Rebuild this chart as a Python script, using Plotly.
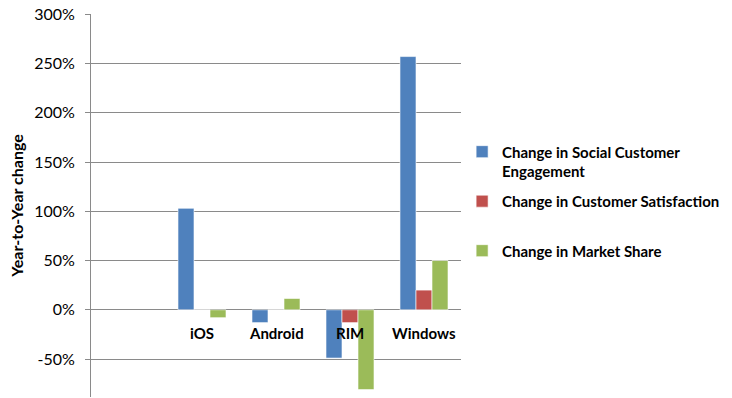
import plotly.graph_objects as go

categories = ["", "iOS", "Android", "RIM", "Windows"]
social_engagement = [None, 1.03, -0.13, -0.49, 2.57]
customer_satisfaction = [None, 0.0, 0.0, -0.13, 0.20]
market_share = [None, -0.08, 0.115, -0.81, 0.50]
series_names = ["Change in Social Customer<br>Engagement",
                "Change in Customer Satisfaction<br>&nbsp;",
                "Change in Market Share<br>&nbsp;"]
colors = ["#4F81BD", "#C0504D", "#9BBB59"]
tick_vals = [3.0, 2.5, 2.0, 1.5, 1.0, 0.5, 0.0, -0.5]
tick_text = ["300%", "250%", "200%", "150%", "100%", "50%", "0%", "-50%"]

FONT = "Lato, Carlito, Arial, sans-serif"
ymin, ymax = -0.885, 3.002

fig = go.Figure()
for i, (vals, name, col) in enumerate(zip([social_engagement, customer_satisfaction, market_share],
                                        series_names, colors)):
    fig.add_trace(go.Bar(x=categories, y=vals, name=name, marker_color=col,
                         marker_line=dict(color="white", width=0.6),
                         legendgroup=f"g{i}"))

# category labels near the zero line
for c in categories:
    if c:
        fig.add_annotation(x=c, y=0, xref="x", yref="y", text=f"<b>{c}</b>",
                           showarrow=False, yanchor="top", yshift=-12,
                           font=dict(family=FONT, size=15, color="#000000"))

fig.update_layout(
    width=732, height=398,
    margin=dict(l=91, r=271, t=14, b=1, autoexpand=False),
    paper_bgcolor="white", plot_bgcolor="white",
    barmode="group", bargap=0.351, bargroupgap=0,
    font=dict(family=FONT, size=14, color="#000000"),
    showlegend=True,
    legend=dict(x=1.003, y=0.683, xanchor="left", yanchor="top",
                font=dict(family=FONT, size=15, color="#000000", weight="bold"),
                traceorder="grouped", tracegroupgap=7.5, valign="top",
                itemwidth=30, bgcolor="rgba(0,0,0,0)"),
    xaxis=dict(showticklabels=False, showgrid=False, zeroline=False, ticks="",
               showline=False, range=[-0.5, 4.5], fixedrange=True, automargin=False),
    yaxis=dict(range=[ymin, ymax], tickvals=tick_vals, ticktext=tick_text,
               automargin=False, ticklabeloverflow="allow",
               showgrid=True, gridcolor="#8a8a8a", gridwidth=1,
               zeroline=True, zerolinecolor="#8a8a8a", zerolinewidth=1,
               showline=True, linecolor="#8a8a8a", linewidth=1,
               ticks="outside", ticklen=5, tickcolor="#8a8a8a",
               ticklabelstandoff=7,
               tickfont=dict(family=FONT, size=16, color="#000000"),
               title=dict(text="<b>Year-to-Year change</b>", standoff=6,
                          font=dict(family=FONT, size=16, color="#000000"))),
)

fig.write_html("out.html", config={"displayModeBar": False},
               post_script="document.body.style.margin='0';")
